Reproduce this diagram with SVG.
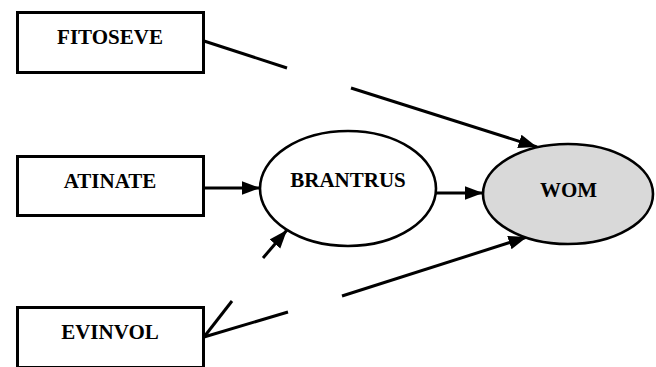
<svg xmlns="http://www.w3.org/2000/svg" width="656" height="367" viewBox="0 0 656 367">
<style>
.box{fill:#fff;stroke:#000;stroke-width:3}
.ell{stroke:#000;stroke-width:2.6}
.lbl{font-family:"Liberation Serif","Times New Roman",serif;font-weight:bold;font-size:21px;fill:#000;text-anchor:middle}
.con{stroke:#000;stroke-width:3;fill:none}
</style>
<defs>
<marker id="ah" markerUnits="userSpaceOnUse" markerWidth="20" markerHeight="15" refX="18.5" refY="7" orient="auto">
<path d="M0,0 L18.5,7 L0,14 z" fill="#000"/>
</marker>
</defs>
<rect width="656" height="367" fill="#fff"/>
<g id="connectors">
<line class="con" x1="204" y1="41" x2="287" y2="68"/>
<line class="con" x1="351" y1="88" x2="537" y2="147" marker-end="url(#ah)"/>
<line class="con" x1="203" y1="188" x2="260" y2="188" marker-end="url(#ah)"/>
<line class="con" x1="436" y1="193" x2="483" y2="193" marker-end="url(#ah)"/>
<line class="con" x1="204" y1="337" x2="232" y2="301"/>
<line class="con" x1="263" y1="258" x2="287" y2="230" marker-end="url(#ah)"/>
<line class="con" x1="204" y1="337" x2="288" y2="312"/>
<line class="con" x1="342" y1="296" x2="527" y2="237" marker-end="url(#ah)"/>
</g>
<g id="FITOSEVE">
<rect class="box" x="17.5" y="12.5" width="186" height="60"/>
<text class="lbl" x="110" y="44">FITOSEVE</text>
</g>
<g id="ATINATE">
<rect class="box" x="17.5" y="156.5" width="186" height="59"/>
<text class="lbl" x="110" y="188">ATINATE</text>
</g>
<g id="EVINVOL">
<rect class="box" x="17.5" y="307.5" width="186" height="60"/>
<text class="lbl" x="110" y="339">EVINVOL</text>
</g>
<g id="BRANTRUS">
<ellipse class="ell" cx="348" cy="188.5" rx="88" ry="57.5" fill="#fff"/>
<text class="lbl" x="348" y="187">BRANTRUS</text>
</g>
<g id="WOM">
<ellipse class="ell" cx="568" cy="194" rx="85" ry="50" fill="#d9d9d9"/>
<text class="lbl" x="568.5" y="197">WOM</text>
</g>
</svg>
